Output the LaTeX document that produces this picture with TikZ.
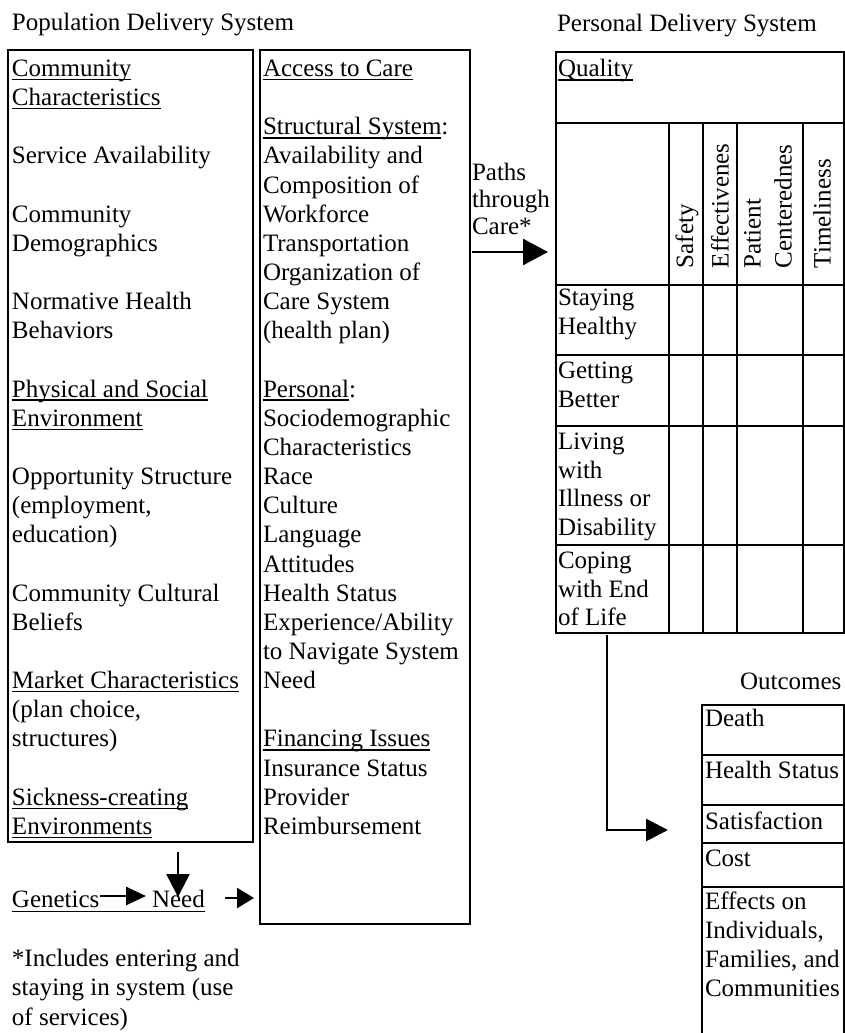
\documentclass[tikz,border=0pt]{standalone}
\usepackage{fontspec}
\setmainfont{Liberation Serif}
\usetikzlibrary{arrows.meta,calc}
\newcommand\ulx[1]{\setbox0\hbox{#1}\rlap{\rule[-3.8pt]{\wd0}{1.5pt}}\box0}
\tikzset{
  txt/.style={inner sep=0pt, outer sep=0pt, font=\fontsize{25}{29.15}\selectfont, align=left, anchor=base west},
  rot/.style={inner sep=0pt, outer sep=0pt, font=\fontsize{25}{31}\selectfont, align=left, rotate=90, anchor=west},
  boxline/.style={draw, line width=1.5pt, inner sep=0pt, outer sep=0pt, anchor=north west},
  rule/.style={line width=1.4pt},
  arr/.style={line width=2.6pt, -{Triangle[length=22pt,width=22pt]}},
  bigarr/.style={line width=2.6pt, -{Triangle[length=25pt,width=26pt]}}
}
\begin{document}
\begin{tikzpicture}[x=1pt,y=-1pt]
\useasboundingbox (0,0) rectangle (845,1033);
% titles (multi-line nodes are placed by the baseline of their last line)
\node[txt] (poptitle) at (12,31) {Population Delivery System};
\node[txt] (pertitle) at (557,32) {Personal Delivery System};
% left box
\node[boxline, minimum width=245pt, minimum height=792pt] (lbox) at (8,50) {};
\node[txt] (lcol) at (12,834.4) {\ulx{Community}\\ \ulx{Characteristics}\\ \mbox{}\\ Service Availability\\ \mbox{}\\ Community\\ Demographics\\ \mbox{}\\ Normative Health\\ Behaviors\\ \mbox{}\\ \ulx{Physical and Social}\\ \ulx{Environment}\\ \mbox{}\\ Opportunity Structure\\ (employment,\\ education)\\ \mbox{}\\ Community Cultural\\ Beliefs\\ \mbox{}\\ \ulx{Market Characteristics}\\ (plan choice,\\ structures)\\ \mbox{}\\ \ulx{Sickness-creating}\\ \ulx{Environments}};
% middle box
\node[boxline, minimum width=210pt, minimum height=874pt] (mbox) at (260,50) {};
\node[txt] (mcol) at (263,834.4) {\ulx{Access to Care}\\ \mbox{}\\ \ulx{Structural System}:\\ Availability and\\ Composition of\\ Workforce\\ Transportation\\ Organization of\\ Care System\\ (health plan)\\ \mbox{}\\ \ulx{Personal}:\\ Sociodemographic\\ Characteristics\\ Race\\ Culture\\ Language\\ Attitudes\\ Health Status\\ Experience/Ability\\ to Navigate System\\ Need\\ \mbox{}\\ \ulx{Financing Issues}\\ Insurance Status\\ Provider\\ Reimbursement};
% paths
\node[txt, font=\fontsize{25}{27}\selectfont] (paths) at (472,234) {Paths\\ through\\ Care*};
\coordinate (pstart) at (472,252);
\coordinate (pend) at (548,252);
\draw[bigarr] (pstart) -- (pend);
% quality table
\node[boxline, minimum width=288pt, minimum height=581pt] (qtab) at (556,52) {};
\foreach \yy in {123,285,355,426,545} \draw[rule] (556,\yy) -- (844,\yy);
\foreach \xx in {669,703,737,803} \draw[rule] (\xx,123) -- (\xx,633);
\node[txt] (quality) at (558,77) {\ulx{Quality}};
\node[rot] (safety) at (687,268) {Safety};
\node[rot] (effect) at (720,268) {Effectivenes};
\node[rot] (patient) at (768,268) {Patient\\ Centerednes};
\node[rot] (timely) at (822,268) {Timeliness};
\node[txt, font=\fontsize{25}{28.5}\selectfont] (stay) at (558,334) {Staying\\ Healthy};
\node[txt, font=\fontsize{25}{28.5}\selectfont] (getting) at (558,407) {Getting\\ Better};
\node[txt, font=\fontsize{25}{28.5}\selectfont] (living) at (558,535) {Living\\ with\\ Illness or\\ Disability};
\node[txt, font=\fontsize{25}{28.5}\selectfont] (coping) at (558,625.5) {Coping\\ with End\\ of Life};
% outcomes
\node[txt] (outtitle) at (740,689) {Outcomes};
\draw[rule] (702,1033) -- (702,705) -- (844,705) -- (844,1033);
\foreach \yy in {755,805,843,887} \draw[rule] (702,\yy) -- (844,\yy);
\node[txt] (death) at (705,726.5) {Death};
\node[txt] (hstat) at (705,778.5) {Health Status};
\node[txt] (satis) at (705,829.5) {Satisfaction};
\node[txt] (cost) at (705,866.5) {Cost};
\node[txt] (effects) at (705,996.5) {Effects on\\ Individuals,\\ Families, and\\ Communities};
\coordinate (estart) at (607,636);
\coordinate (eend) at (668,830);
\draw[arr, line cap=rect] (estart) |- (eend);
% genetics / need
\node[txt] (gen) at (12,907) {Genetics};
\node[txt] (need) at (152,907) {Need};
\draw[rule] ($(gen.base west)+(0,4.5)$) -- ($(need.base east)+(0,4.5)$);
\coordinate (gstart) at (100,896);
\coordinate (gend) at (146,896);
\draw[arr, -{Triangle[length=20pt,width=18pt]}] (gstart) -- (gend);
\coordinate (vstart) at (178,852);
\coordinate (vend) at (178,897);
\draw[arr, -{Triangle[length=23pt,width=23pt]}] (vstart) -- (vend);
\coordinate (nstart) at (225,898);
\coordinate (nend) at (254,898);
\draw[arr, -{Triangle[length=17pt,width=20pt]}] (nstart) -- (nend);
% footnote
\node[txt] (foot) at (12,1025) {*Includes entering and\\ staying in system (use\\ of services)};
\end{tikzpicture}
\end{document}
